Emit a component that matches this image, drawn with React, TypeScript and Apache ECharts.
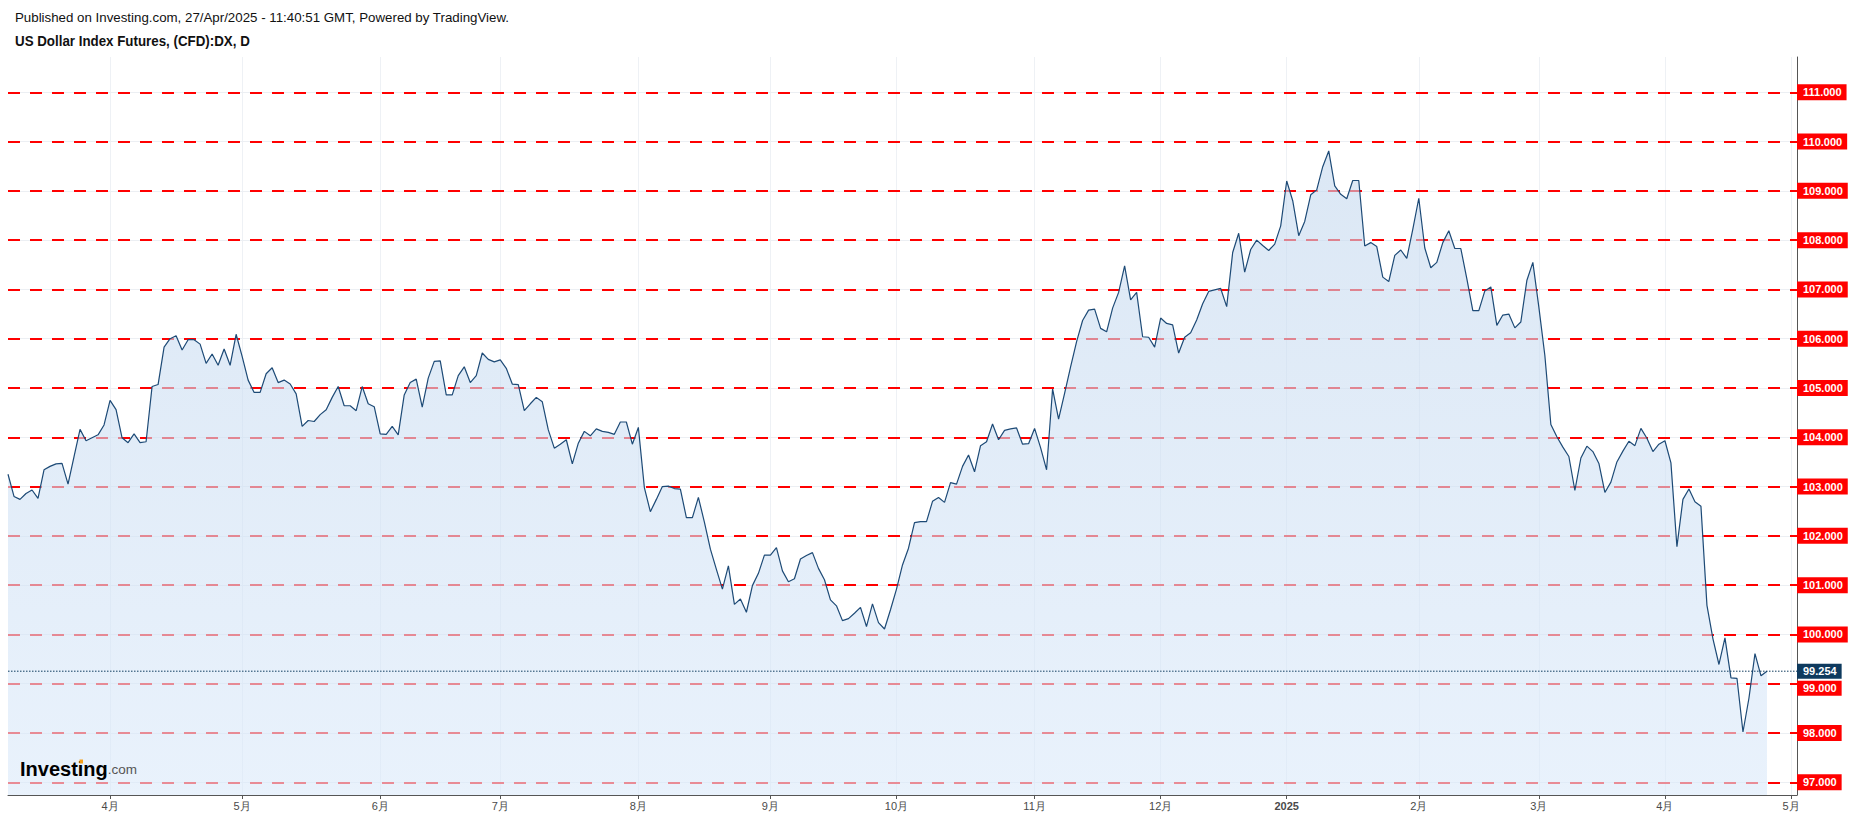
import React, { useEffect, useRef } from 'react';
import * as echarts from 'echarts';

const TITLE = 'Published on Investing.com, 27/Apr/2025 - 11:40:51 GMT, Powered by TradingView.';
const SUBTITLE = 'US Dollar Index Futures, (CFD):DX, D';

const START_DATE = '2024-03-06';
const AXIS_END_DATE = '2025-05-02';
const HOLIDAYS = ['2024-03-29', '2024-12-25', '2025-01-01', '2025-04-18'];

const mar2024 = [103.25, 102.80, 102.74, 102.86, 102.93, 102.76, 103.34, 103.41, 103.46, 103.47, 103.05, 103.61, 104.16, 103.93, 103.99, 104.05, 104.25];
const apr2024 = [104.75, 104.56, 103.99, 103.89, 104.07, 103.89, 103.91, 105.03, 105.07, 105.83, 106.00, 106.06, 105.77, 105.98, 105.98, 105.89, 105.50, 105.69, 105.46, 105.79, 105.46, 106.09];
const may2024 = [105.64, 105.16, 104.91, 104.91, 105.29, 105.41, 105.11, 105.16, 105.08, 104.88, 104.22, 104.34, 104.32, 104.46, 104.56, 104.81, 105.03, 104.64, 104.64, 104.54, 105.03, 104.68, 104.62];
const jun2024 = [104.07, 104.06, 104.22, 104.05, 104.86, 105.11, 105.18, 104.61, 105.20, 105.54, 105.55, 104.86, 104.86, 105.25, 105.43, 105.11, 105.25, 105.71, 105.58, 105.53];
const jul2024 = [105.57, 105.40, 105.08, 105.07, 104.54, 104.68, 104.81, 104.72, 104.15, 103.78, 103.86, 103.95, 103.46, 103.88, 104.12, 104.03, 104.17, 104.12, 104.10, 104.06, 104.31, 104.31, 103.86];
const aug2024 = [104.20, 102.98, 102.49, 102.74, 103.00, 103.01, 102.96, 102.95, 102.37, 102.37, 102.78, 102.28, 101.73, 101.32, 100.92, 101.39, 100.61, 100.72, 100.45, 100.99, 101.24, 101.61];
const sep2024 = [101.61, 101.76, 101.29, 101.07, 101.13, 101.53, 101.60, 101.66, 101.34, 101.11, 100.70, 100.58, 100.28, 100.32, 100.43, 100.55, 100.16, 100.62, 100.24, 100.11, 100.50];
const oct2024 = [100.92, 101.41, 101.75, 102.27, 102.29, 102.29, 102.70, 102.78, 102.68, 103.08, 103.05, 103.41, 103.64, 103.30, 103.83, 103.91, 104.27, 103.95, 104.14, 104.17, 104.19, 103.86, 103.87];
const nov2024 = [104.18, 103.79, 103.34, 104.98, 104.37, 104.89, 105.43, 105.94, 106.37, 106.58, 106.60, 106.21, 106.14, 106.62, 106.94, 107.48, 106.79, 106.94, 106.04, 106.03, 105.83];
const dec2024 = [106.42, 106.31, 106.28, 105.71, 106.03, 106.12, 106.38, 106.71, 106.96, 106.99, 107.02, 106.65, 107.75, 108.14, 107.35, 107.81, 108.00, 107.89, 107.79, 107.92, 108.29];
const jan2025 = [109.20, 108.80, 108.09, 108.38, 108.92, 109.02, 109.49, 109.81, 109.10, 108.93, 108.84, 109.21, 109.21, 107.88, 107.95, 107.87, 107.25, 107.16, 107.69, 107.80, 107.63, 108.22];
const feb2025 = [108.85, 107.84, 107.44, 107.55, 107.95, 108.19, 107.83, 107.83, 107.22, 106.57, 106.57, 106.97, 107.05, 106.27, 106.48, 106.50, 106.22, 106.34, 107.18, 107.55];
const mar2025 = [106.64, 105.66, 104.26, 104.01, 103.80, 103.61, 102.92, 103.58, 103.82, 103.71, 103.47, 102.88, 103.09, 103.50, 103.72, 103.92, 103.83, 104.18, 103.98, 103.71, 103.86];
const apr2025 = [103.93, 103.48, 101.78, 102.74, 102.95, 102.69, 102.60, 100.59, 99.91, 99.39, 99.93, 99.12, 99.11, 98.02, 98.71, 99.61, 99.16, 99.254];

const LEVELS = [97, 98, 99, 100, 101, 102, 103, 104, 105, 106, 107, 108, 109, 110, 111];
const LAST_PRICE = 99.254;
const Y_MIN = 96.742;
const Y_MAX = 111.716;

const PRICES = [
  ...mar2024, ...apr2024, ...may2024, ...jun2024, ...jul2024, ...aug2024, ...sep2024,
  ...oct2024, ...nov2024, ...dec2024, ...jan2025, ...feb2025, ...mar2025, ...apr2025,
];

function tradingDays(start: string, end: string, holidays: string[]): string[] {
  const out: string[] = [];
  const d = new Date(start + 'T00:00:00Z');
  const e = new Date(end + 'T00:00:00Z');
  while (d <= e) {
    const wd = d.getUTCDay();
    const s = d.toISOString().slice(0, 10);
    if (wd !== 0 && wd !== 6 && holidays.indexOf(s) < 0) out.push(s);
    d.setUTCDate(d.getUTCDate() + 1);
  }
  return out;
}

const DATES = tradingDays(START_DATE, AXIS_END_DATE, HOLIDAYS);
const LAST_LINE = DATES.map(() => LAST_PRICE);

const isMonthStart = (i: number) => i > 0 && DATES[i].slice(5, 7) !== DATES[i - 1].slice(5, 7);

const SANS = "'Liberation Sans', Arial, sans-serif";

export default function App() {
  const ref = useRef<HTMLDivElement>(null);
  useEffect(() => {
    if (!ref.current) return;
    const chart = echarts.init(ref.current, undefined, { renderer: 'svg' });

    const boxText = {
      color: '#ffffff',
      fontWeight: 'bold',
      fontSize: 11,
      lineHeight: 12,
      fontFamily: SANS,
      padding: [2, 5, 2, 6],
    };

    const grayLines = LEVELS.map((v) => ({
      yAxis: v,
      lineStyle: { color: '#eceff3', width: 1, type: 'solid' },
      label: { show: false },
    }));

    const redLines = LEVELS.map((v) => {
      if (Math.abs(v - LAST_PRICE) < 0.5) {
        return {
          yAxis: v,
          label: {
            backgroundColor: 'transparent',
            padding: [9, 0, 0, 0],
            formatter: () => '{b|' + v.toFixed(3) + '}',
            rich: { b: { ...boxText, backgroundColor: '#ff0000' } },
          },
        };
      }
      return { yAxis: v };
    });

    const option: any = {
      animation: false,
      backgroundColor: '#ffffff',
      grid: { left: 8, right: 58, top: 57, bottom: 24, containLabel: false },
      xAxis: {
        type: 'category',
        data: DATES,
        boundaryGap: false,
        axisLine: { show: true, lineStyle: { color: '#555555', width: 1 } },
        axisTick: {
          show: true,
          length: 4,
          lineStyle: { color: '#555555' },
          interval: (i: number) => isMonthStart(i),
        },
        axisLabel: {
          show: true,
          interval: (i: number) => isMonthStart(i),
          color: '#4a4a4a',
          fontSize: 11,
          fontFamily: SANS,
          margin: 5,
          formatter: (v: string) => {
            const m = parseInt(v.slice(5, 7), 10);
            if (m === 1) return '{y|' + v.slice(0, 4) + '}';
            return m + '月';
          },
          rich: { y: { fontWeight: 'bold', fontSize: 11, color: '#4a4a4a', fontFamily: SANS } },
        },
        splitLine: {
          show: true,
          interval: (i: number) => isMonthStart(i),
          lineStyle: { color: '#eef1f5', width: 1 },
        },
      },
      yAxis: {
        type: 'value',
        position: 'right',
        min: Y_MIN,
        max: Y_MAX,
        axisLine: { show: true, lineStyle: { color: '#555555', width: 1 } },
        axisTick: { show: false },
        axisLabel: { show: false },
        splitLine: { show: false },
      },
      series: [
        {
          name: 'levels',
          type: 'line',
          data: PRICES,
          symbol: 'none',
          silent: true,
          lineStyle: { opacity: 0 },
          z: 1,
          markLine: {
            silent: true,
            symbol: ['none', 'none'],
            label: {
              show: true,
              position: 'end',
              distance: 0,
              backgroundColor: '#ff0000',
              ...boxText,
              formatter: (p: any) => Number(p.value).toFixed(3),
            },
            lineStyle: { color: '#ff0000', width: 2, type: [12, 10] },
            data: [...grayLines, ...redLines],
          },
        },
        {
          name: 'fill',
          type: 'line',
          data: PRICES,
          symbol: 'none',
          silent: true,
          z: 10,
          lineStyle: { width: 0, opacity: 0 },
          areaStyle: {
            origin: 'start',
            opacity: 1,
            color: new echarts.graphic.LinearGradient(0, 0, 0, 1, [
              { offset: 0, color: 'rgba(196,216,238,0.6)' },
              { offset: 1, color: 'rgba(218,233,250,0.6)' },
            ]),
          },
        },
        {
          name: 'DX',
          type: 'line',
          data: PRICES,
          symbol: 'none',
          showSymbol: false,
          z: 11,
          lineStyle: { color: '#1d4a76', width: 1.2 },
        },
        {
          name: 'last',
          type: 'line',
          data: LAST_LINE,
          symbol: 'none',
          silent: true,
          z: 12,
          lineStyle: { color: '#0e3a5e', width: 1, type: [1.5, 1.5] },
          endLabel: {
            show: true,
            distance: 0,
            backgroundColor: '#0e3a5e',
            ...boxText,
            padding: [1, 5, 2, 6],
            formatter: (p: any) => Number(p.value).toFixed(3),
          },
        },
      ],
      graphic: [
        {
          type: 'text',
          x: 15,
          y: 17,
          style: { text: TITLE, fill: '#111111', fontSize: 13.3, fontFamily: SANS, verticalAlign: 'middle' },
        },
        {
          type: 'text',
          x: 15,
          y: 41,
          scaleX: 0.92,
          style: {
            text: SUBTITLE,
            fill: '#111111',
            fontSize: 14.5,
            fontWeight: 'bold',
            fontFamily: SANS,
            verticalAlign: 'middle',
          },
        },
        {
          type: 'text',
          x: 20,
          y: 779,
          z: 20,
          style: {
            text: '{a|Investing}{b|.com}',
            verticalAlign: 'bottom',
            rich: {
              a: { fontSize: 20, fontWeight: 'bold', fill: '#000000', fontFamily: SANS },
              b: { fontSize: 13.5, fill: '#555555', fontFamily: SANS },
            },
          },
        },
        {
          type: 'rect',
          z: 21,
          shape: { x: 79.5, y: 759.5, width: 3.5, height: 4 },
          style: { fill: '#f5a01a' },
        },
      ],
    };

    chart.setOption(option);
    return () => chart.dispose();
  }, []);

  return (
    <div
      ref={ref}
      style={{ position: 'fixed', left: 0, top: 0, width: '1855px', height: '819px', background: '#fff' }}
    />
  );
}
